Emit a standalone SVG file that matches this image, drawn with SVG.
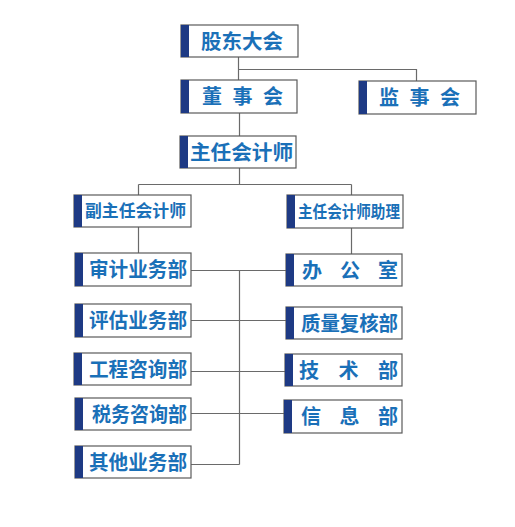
<svg xmlns="http://www.w3.org/2000/svg" width="515" height="527" viewBox="0 0 515 527">
<style>
.box{fill:#fff;stroke:#5a5a5a;stroke-width:1.2}
.sh{fill:none;stroke:#c8c8c8;stroke-width:1.2}
.bar{fill:#1e3a84}
.t{font-family:"Noto Sans CJK SC","Noto Sans CJK TC",sans-serif;font-weight:bold;fill:#1a70b8;font-size:20px}
.s{font-size:17px}
.c{fill:none;stroke:#6a6a6a;stroke-width:1.2}
</style>
<rect width="515" height="527" fill="#fff"/>
<g id="connectors">
<path class="c" d="M238.5,57V80M238.5,69.5H416.5V81M239.5,113V136M239.5,168V184.5M138.5,184.5H351.5M138.5,184.5V195M351.5,184.5V195M138.5,227V253M351.5,228V254M191,270.5H286M239.5,270.5V464.5M191,320.5H286M191,371.5H285M191,413.5H284M191,464.5H239.5"/>
</g>
<g id="n1"><rect class="box" x="181" y="25" width="117" height="32"/><rect class="bar" x="181" y="25" width="8" height="32"/><text class="t" x="201" y="48.5" textLength="82" lengthAdjust="spacingAndGlyphs">股东大会</text></g>
<g id="n2"><rect class="box" x="181" y="80" width="116" height="33"/><rect class="bar" x="181" y="80" width="8" height="33"/><text class="t" x="202" y="104" textLength="81" lengthAdjust="spacing">董 事 会</text></g>
<g id="n3"><rect class="box" x="359" y="81" width="117" height="33"/><rect class="bar" x="359" y="81" width="8" height="33"/><text class="t" x="379" y="105" textLength="81" lengthAdjust="spacing">监 事 会</text></g>
<g id="n4"><rect class="box" x="180" y="136" width="116" height="32"/><rect class="bar" x="180" y="136" width="8" height="32"/><text class="t" x="190" y="159.5" textLength="103" lengthAdjust="spacingAndGlyphs">主任会计师</text></g>
<g id="n5"><rect class="box" x="74" y="195" width="117" height="32"/><rect class="bar" x="74" y="195" width="8" height="32"/><text class="t s" x="85" y="217" textLength="101" lengthAdjust="spacingAndGlyphs">副主任会计师</text></g>
<g id="n6"><rect class="box" x="287" y="195" width="116" height="33"/><rect class="bar" x="287" y="195" width="8" height="33"/><text class="t s" x="298" y="217.5" textLength="102" lengthAdjust="spacingAndGlyphs">主任会计师助理</text></g>
<g id="n7"><rect class="box" x="75" y="253" width="116" height="33"/><rect class="bar" x="75" y="253" width="8" height="33"/><text class="t" x="89" y="277" textLength="98" lengthAdjust="spacingAndGlyphs">审计业务部</text></g>
<g id="n8"><rect class="box" x="286" y="254" width="116" height="32"/><rect class="bar" x="286" y="254" width="8" height="32"/><text class="t" x="302" y="277.5" textLength="96" lengthAdjust="spacing">办 公 室</text></g>
<g id="n9"><rect class="box" x="75" y="304" width="116" height="33"/><rect class="bar" x="75" y="304" width="8" height="33"/><text class="t" x="89" y="328" textLength="98" lengthAdjust="spacingAndGlyphs">评估业务部</text></g>
<g id="n10"><rect class="box" x="286" y="307" width="116" height="32"/><rect class="bar" x="286" y="307" width="8" height="32"/><text class="t" x="301" y="330.5" textLength="97" lengthAdjust="spacingAndGlyphs">质量复核部</text></g>
<g id="n11"><rect class="box" x="74" y="353" width="117" height="32"/><rect class="bar" x="74" y="353" width="8" height="32"/><text class="t" x="89" y="376.5" textLength="98" lengthAdjust="spacingAndGlyphs">工程咨询部</text></g>
<g id="n12"><rect class="box" x="285" y="354" width="117" height="32"/><rect class="bar" x="285" y="354" width="8" height="32"/><text class="t" x="299" y="377.5" textLength="99" lengthAdjust="spacing">技 术 部</text></g>
<g id="n13"><rect class="box" x="75" y="398" width="116" height="32"/><rect class="bar" x="75" y="398" width="8" height="32"/><text class="t" x="92" y="421.5" textLength="95" lengthAdjust="spacingAndGlyphs">税务咨询部</text></g>
<g id="n14"><rect class="box" x="284" y="400" width="118" height="33"/><rect class="bar" x="284" y="400" width="8" height="33"/><text class="t" x="301" y="424" textLength="97" lengthAdjust="spacing">信 息 部</text></g>
<g id="n15"><rect class="box" x="75" y="446" width="116" height="32"/><rect class="bar" x="75" y="446" width="8" height="32"/><text class="t" x="89" y="469.5" textLength="98" lengthAdjust="spacingAndGlyphs">其他业务部</text></g>
</svg>
